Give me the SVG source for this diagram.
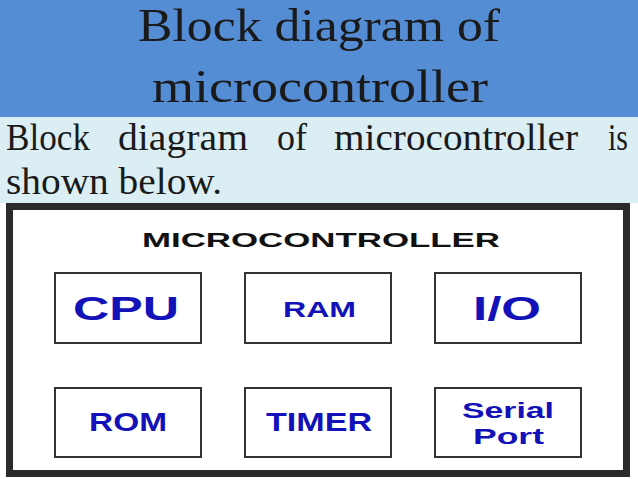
<svg xmlns="http://www.w3.org/2000/svg" width="638" height="479" viewBox="0 0 638 479">
<style>
.title{font-family:"Liberation Serif","Times New Roman",serif;font-size:46px;fill:#1a1a1a}
.body{font-family:"Liberation Serif","Times New Roman",serif;font-size:37px;fill:#1a1a1a}
.box{fill:#ffffff;stroke:#333333;stroke-width:2}
.lbl{font-family:"Liberation Sans",Arial,sans-serif;font-weight:bold;fill:#1212b8}
.head{font-family:"Liberation Sans",Arial,sans-serif;font-weight:bold;font-size:21px;fill:#111111}
</style>
<rect x="0" y="0" width="638" height="479" fill="#ffffff"/>
<rect x="0" y="0" width="638" height="117" fill="#548DD4"/>
<rect x="0" y="117" width="638" height="86" fill="#DAEEF3"/>
<g id="title">
<text class="title" x="138" y="41" textLength="362" lengthAdjust="spacingAndGlyphs">Block diagram of</text>
<text class="title" x="152" y="102" textLength="336" lengthAdjust="spacingAndGlyphs">microcontroller</text>
</g>
<g id="intro">
<text class="body" x="6" y="150" textLength="84" lengthAdjust="spacingAndGlyphs">Block</text>
<text class="body" x="118" y="150" textLength="130" lengthAdjust="spacingAndGlyphs">diagram</text>
<text class="body" x="277" y="150" textLength="30" lengthAdjust="spacingAndGlyphs">of</text>
<text class="body" x="334" y="150" textLength="244" lengthAdjust="spacingAndGlyphs">microcontroller</text>
<text class="body" x="608" y="150" textLength="20" lengthAdjust="spacingAndGlyphs">is</text>
<text class="body" x="6" y="194" textLength="216" lengthAdjust="spacingAndGlyphs">shown below.</text>
</g>
<g id="microcontroller">
<rect x="9.5" y="206.5" width="617" height="267" fill="#ffffff" stroke="#2b2b2b" stroke-width="7"/>
<text class="head" x="142" y="247" textLength="358" lengthAdjust="spacingAndGlyphs">MICROCONTROLLER</text>
</g>
<g id="cpu">
<rect class="box" x="55" y="273" width="146" height="70"/>
<text class="lbl" x="73" y="320" font-size="34" textLength="106" lengthAdjust="spacingAndGlyphs">CPU</text>
</g>
<g id="ram">
<rect class="box" x="245" y="273" width="146" height="70"/>
<text class="lbl" x="283" y="317" font-size="22" textLength="73" lengthAdjust="spacingAndGlyphs">RAM</text>
</g>
<g id="io">
<rect class="box" x="435" y="273" width="146" height="70"/>
<text class="lbl" x="473" y="320" font-size="34" textLength="68" lengthAdjust="spacingAndGlyphs">I/O</text>
</g>
<g id="rom">
<rect class="box" x="55" y="388" width="146" height="69"/>
<text class="lbl" x="89" y="431" font-size="25" textLength="78" lengthAdjust="spacingAndGlyphs">ROM</text>
</g>
<g id="timer">
<rect class="box" x="245" y="388" width="146" height="69"/>
<text class="lbl" x="266" y="431" font-size="25" textLength="106" lengthAdjust="spacingAndGlyphs">TIMER</text>
</g>
<g id="serial-port">
<rect class="box" x="435" y="388" width="146" height="69"/>
<text class="lbl" x="462" y="418" font-size="22" textLength="92" lengthAdjust="spacingAndGlyphs">Serial</text>
<text class="lbl" x="473" y="444" font-size="22" textLength="71" lengthAdjust="spacingAndGlyphs">Port</text>
</g>
<g id="connectors"/>
</svg>
